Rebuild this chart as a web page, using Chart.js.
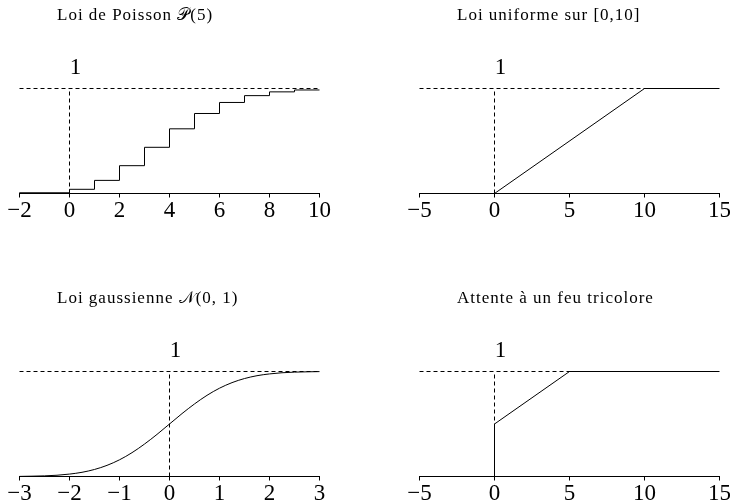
<!DOCTYPE html>
<html>
<head>
<meta charset="utf-8">
<script src="https://cdn.jsdelivr.net/npm/chart.js@4.4.0/dist/chart.umd.min.js"></script>
<style>
  body { margin: 0; background: #fff; width: 730px; height: 504px; position: relative; overflow: hidden; }
  canvas { position: absolute; }
</style>
</head>
<body>
<canvas id="poissonChart" width="365" height="221" style="left:0;top:0"></canvas>
<canvas id="uniformChart" width="365" height="221" style="left:365px;top:0"></canvas>
<canvas id="gaussChart" width="365" height="221" style="left:0;top:283px"></canvas>
<canvas id="feuChart" width="365" height="221" style="left:365px;top:283px"></canvas>
<script>
// Poisson P(5) distribution function, value at each jump
const poissonX = [-2, 0, 1, 2, 3, 4, 5, 6, 7, 8, 9, 10];
const poissonF = [0, 0.007, 0.040, 0.125, 0.265, 0.440, 0.616, 0.762, 0.867, 0.932, 0.968, 0.986];
const poissonTicks = [-2, 0, 2, 4, 6, 8, 10];

// uniform on [0,10]
const uniformX = [-5, 0, 10, 15];
const uniformF = [0, 0, 1, 1];
const uniformTicks = [-5, 0, 5, 10, 15];

// standard gaussian N(0,1)
const gaussX = [-3, -2.75, -2.5, -2.25, -2, -1.75, -1.5, -1.25, -1, -0.75, -0.5, -0.25, 0,
                0.25, 0.5, 0.75, 1, 1.25, 1.5, 1.75, 2, 2.25, 2.5, 2.75, 3];
const gaussF = [0.001, 0.003, 0.006, 0.012, 0.023, 0.040, 0.067, 0.106, 0.159, 0.227, 0.309, 0.401, 0.5,
                0.599, 0.691, 0.773, 0.841, 0.894, 0.933, 0.960, 0.977, 0.988, 0.994, 0.997, 0.999];
const gaussTicks = [-3, -2, -1, 0, 1, 2, 3];

// waiting time at a traffic light
const feuX = [-5, 0, 0, 5, 15];
const feuF = [0, 0, 0.5, 1, 1];
const feuTicks = [-5, 0, 5, 10, 15];

const serif = '"Liberation Serif", "DejaVu Serif", serif';

// titles and the "1" above the dashed line
const panelText = {
  id: 'panelText',
  afterDraw(chart, args, opts) {
    const ctx = chart.ctx;
    const xs = chart.scales.x, ys = chart.scales.y;
    ctx.save();
    ctx.fillStyle = '#000';
    ctx.textBaseline = 'middle';
    ctx.textAlign = 'left';
    ctx.font = '17px ' + serif;
    ctx.letterSpacing = '1px';
    ctx.fillText(opts.title, opts.titleX, 16);
    ctx.letterSpacing = '0px';
    ctx.textAlign = 'center';
    ctx.font = '23px ' + serif;
    ctx.fillText('1', xs.getPixelForValue(0) + 6, ys.getPixelForValue(1) - 21);
    ctx.restore();
  }
};

function toPoints(xs, ys) {
  return xs.map((x, i) => ({ x: x, y: ys[i] }));
}

function makeChart(id, title, titleX, xs, ys, ticks, pad, curveOpts) {
  const xMin = ticks[0], xMax = ticks[ticks.length - 1];
  const dashed = { borderColor: '#000', borderWidth: 1, borderDash: [4, 3], pointRadius: 0, clip: false };
  return new Chart(document.getElementById(id), {
    type: 'line',
    data: {
      datasets: [
        Object.assign({ data: toPoints(xs, ys), borderColor: '#000', borderWidth: 1, pointRadius: 0, clip: false }, curveOpts),
        Object.assign({ data: [{ x: xMin, y: 1 }, { x: xMax, y: 1 }] }, dashed),
        Object.assign({ data: [{ x: 0, y: 0 }, { x: 0, y: 1 }] }, dashed)
      ]
    },
    options: {
      responsive: false,
      devicePixelRatio: 1,
      animation: false,
      events: [],
      // half-pixel offsets keep the 1px lines crisp
      layout: { padding: { left: pad[0], right: pad[1], top: 88.5, bottom: 0 } },
      plugins: {
        legend: { display: false },
        tooltip: { enabled: false },
        panelText: { title: title, titleX: titleX }
      },
      scales: {
        x: {
          type: 'linear',
          min: xMin,
          max: xMax,
          afterBuildTicks: s => { s.ticks = ticks.map(v => ({ value: v })); },
          afterFit: s => { s.height = 27.5; s.paddingLeft = 0; s.paddingRight = 0; },
          grid: { drawOnChartArea: false, drawTicks: true, tickLength: 4, color: '#000' },
          border: { display: true, color: '#000', width: 1 },
          ticks: {
            color: '#000',
            padding: 0,
            maxRotation: 0,
            autoSkip: false,
            font: { family: serif, size: 23 },
            callback: v => String(v).replace('-', '\u2212')
          }
        },
        y: { display: false, min: 0, max: 1 }
      }
    },
    plugins: [panelText]
  });
}

makeChart('poissonChart', 'Loi de Poisson \u{1D4AB}(5)', 57, poissonX, poissonF, poissonTicks, [19.5, 45.5], { stepped: 'after' });
makeChart('uniformChart', 'Loi uniforme sur [0,10]', 92, uniformX, uniformF, uniformTicks, [54.5, 10.5], {});
makeChart('gaussChart', 'Loi gaussienne \u{1D4A9}(0, 1)', 57, gaussX, gaussF, gaussTicks, [19.5, 45.5], { cubicInterpolationMode: 'monotone' });
makeChart('feuChart', 'Attente à un feu tricolore', 92, feuX, feuF, feuTicks, [54.5, 10.5], {});
</script>
</body>
</html>
